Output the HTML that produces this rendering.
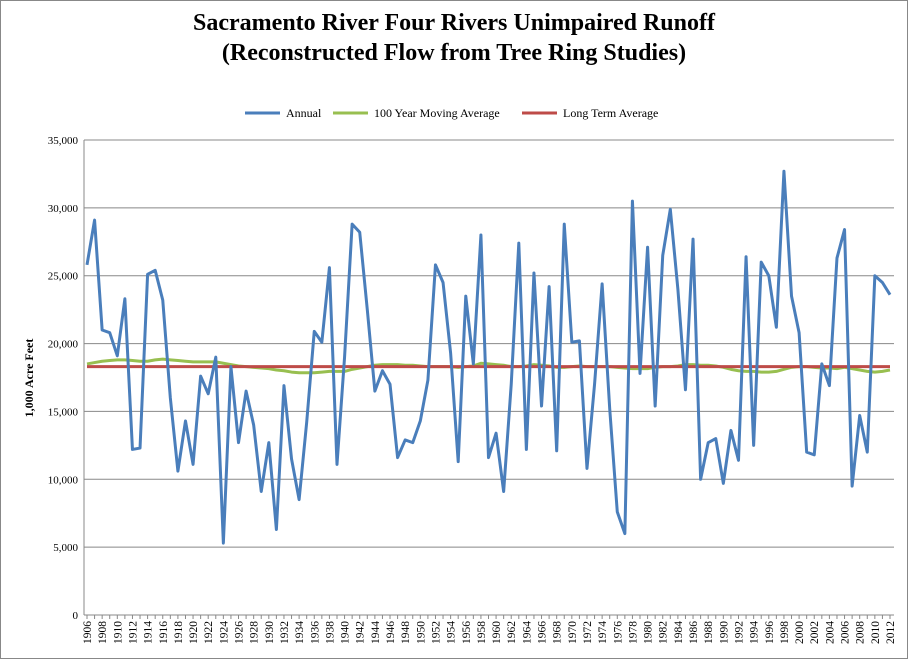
<!DOCTYPE html>
<html><head><meta charset="utf-8"><style>
body{margin:0;background:#fff}
svg text{font-family:"Liberation Serif",serif}
</style></head><body>
<svg id="chart" width="909" height="660" xmlns="http://www.w3.org/2000/svg">
<rect x="0.5" y="0.5" width="907" height="658" fill="#fff" stroke="#888"/>
<text x="454" y="30" font-size="24" font-weight="bold" text-anchor="middle">Sacramento River Four Rivers Unimpaired Runoff</text>
<text x="454" y="60" font-size="24" font-weight="bold" text-anchor="middle">(Reconstructed Flow from Tree Ring Studies)</text>
<g font-size="12">
<g><line x1="245" y1="113" x2="280" y2="113" stroke="#4a7ebb" stroke-width="3"/><text x="286" y="117">Annual</text></g>
<g><line x1="333" y1="113" x2="368" y2="113" stroke="#98bf50" stroke-width="3"/><text x="374" y="117">100 Year Moving Average</text></g>
<g><line x1="522" y1="113" x2="557" y2="113" stroke="#be4b48" stroke-width="3"/><text x="563" y="117">Long Term Average</text></g>
</g>
<text transform="translate(33,378) rotate(-90)" font-size="12" font-weight="bold" text-anchor="middle">1,000 Acre Feet</text>
<g id="grid"></g><g id="axes"></g><g id="series"></g>
</svg>
<script>
const years=[];for(let y=1906;y<=2012;y++)years.push(y);
const annual=[25800,29100,21000,20800,19100,23300,12200,12300,25100,25400,23200,16000,10600,14300,11100,17600,16300,19000,5300,18300,12700,16500,14000,9100,12700,6300,16900,11500,8500,14200,20900,20100,25600,11100,19000,28800,28200,22500,16500,18000,17000,11600,12900,12700,14300,17300,25800,24500,19300,11300,23500,18500,28000,11600,13400,9100,17000,27400,12200,25200,15400,24200,12100,28800,20100,20200,10800,17000,24400,15200,7600,6000,30500,17800,27100,15400,26500,29900,24000,16600,27700,10000,12700,13000,9700,13600,11400,26400,12500,26000,25000,21200,32700,23500,20800,12000,11800,18500,16900,26300,28400,9500,14700,12000,25000,24500,23600];
const movingAvg=[18500,18600,18700,18750,18800,18800,18750,18700,18700,18800,18850,18800,18750,18700,18650,18650,18650,18650,18550,18450,18350,18300,18250,18200,18150,18050,18000,17900,17850,17850,17850,17900,17950,17950,17950,18100,18200,18300,18400,18450,18450,18450,18400,18400,18350,18300,18300,18300,18300,18250,18300,18350,18550,18500,18450,18400,18300,18300,18350,18450,18400,18350,18250,18250,18300,18350,18300,18300,18300,18300,18250,18200,18150,18150,18150,18250,18300,18300,18350,18450,18450,18400,18400,18350,18250,18100,18000,17950,17950,17900,17900,17950,18100,18250,18300,18300,18250,18200,18200,18150,18250,18150,18050,17950,17900,17950,18050];
const longTermAvg=18300;
const yTicks=[0,5000,10000,15000,20000,25000,30000,35000];
const NS="http://www.w3.org/2000/svg";
const x0=87,x1=890,yTop=140,yBot=615,yMax=35000;
function xs(i){return x0+(x1-x0)*i/(years.length-1);}
function ys(v){return yBot-(yBot-yTop)*v/yMax;}
function mk(t,a,p){const e=document.createElementNS(NS,t);for(const k in a)e.setAttribute(k,a[k]);p.appendChild(e);return e;}
const grid=document.getElementById('grid'),axes=document.getElementById('axes'),ser=document.getElementById('series');
yTicks.forEach(v=>{
 const l=mk('line',{x1:84,x2:x1+4,y1:ys(v),y2:ys(v),stroke:'#888','stroke-width':1},grid);
 
 
 const t=mk('text',{x:78,y:ys(v)+4,'font-size':11,'text-anchor':'end'},axes);
 t.textContent=v.toLocaleString('en-US');
 
 
});
const ya=mk('line',{x1:84,x2:84,y1:yTop,y2:yBot,stroke:'#888'},axes);


years.forEach((yr,i)=>{
 const x=xs(i);
 mk('line',{x1:x,x2:x,y1:yBot,y2:yBot+4,stroke:'#888'},axes);
 if(i%2===0){
  const t=mk('text',{transform:`translate(${x+4},${yBot+6}) rotate(-90)`,'font-size':11.5,'text-anchor':'end'},axes);
  t.textContent=yr;
  
  
 }
});
function line(vals,color,name){
 const p=mk('polyline',{points:vals.map((v,i)=>xs(i)+','+ys(v)).join(' '),fill:'none',stroke:color,'stroke-width':3,'stroke-linejoin':'round'},ser);
 
 
}
line(movingAvg,'#98bf50','moving-average-line');
line(years.map(()=>longTermAvg),'#be4b48','long-term-average-line');
line(annual,'#4a7ebb','annual-line');
</script>
</body></html>
